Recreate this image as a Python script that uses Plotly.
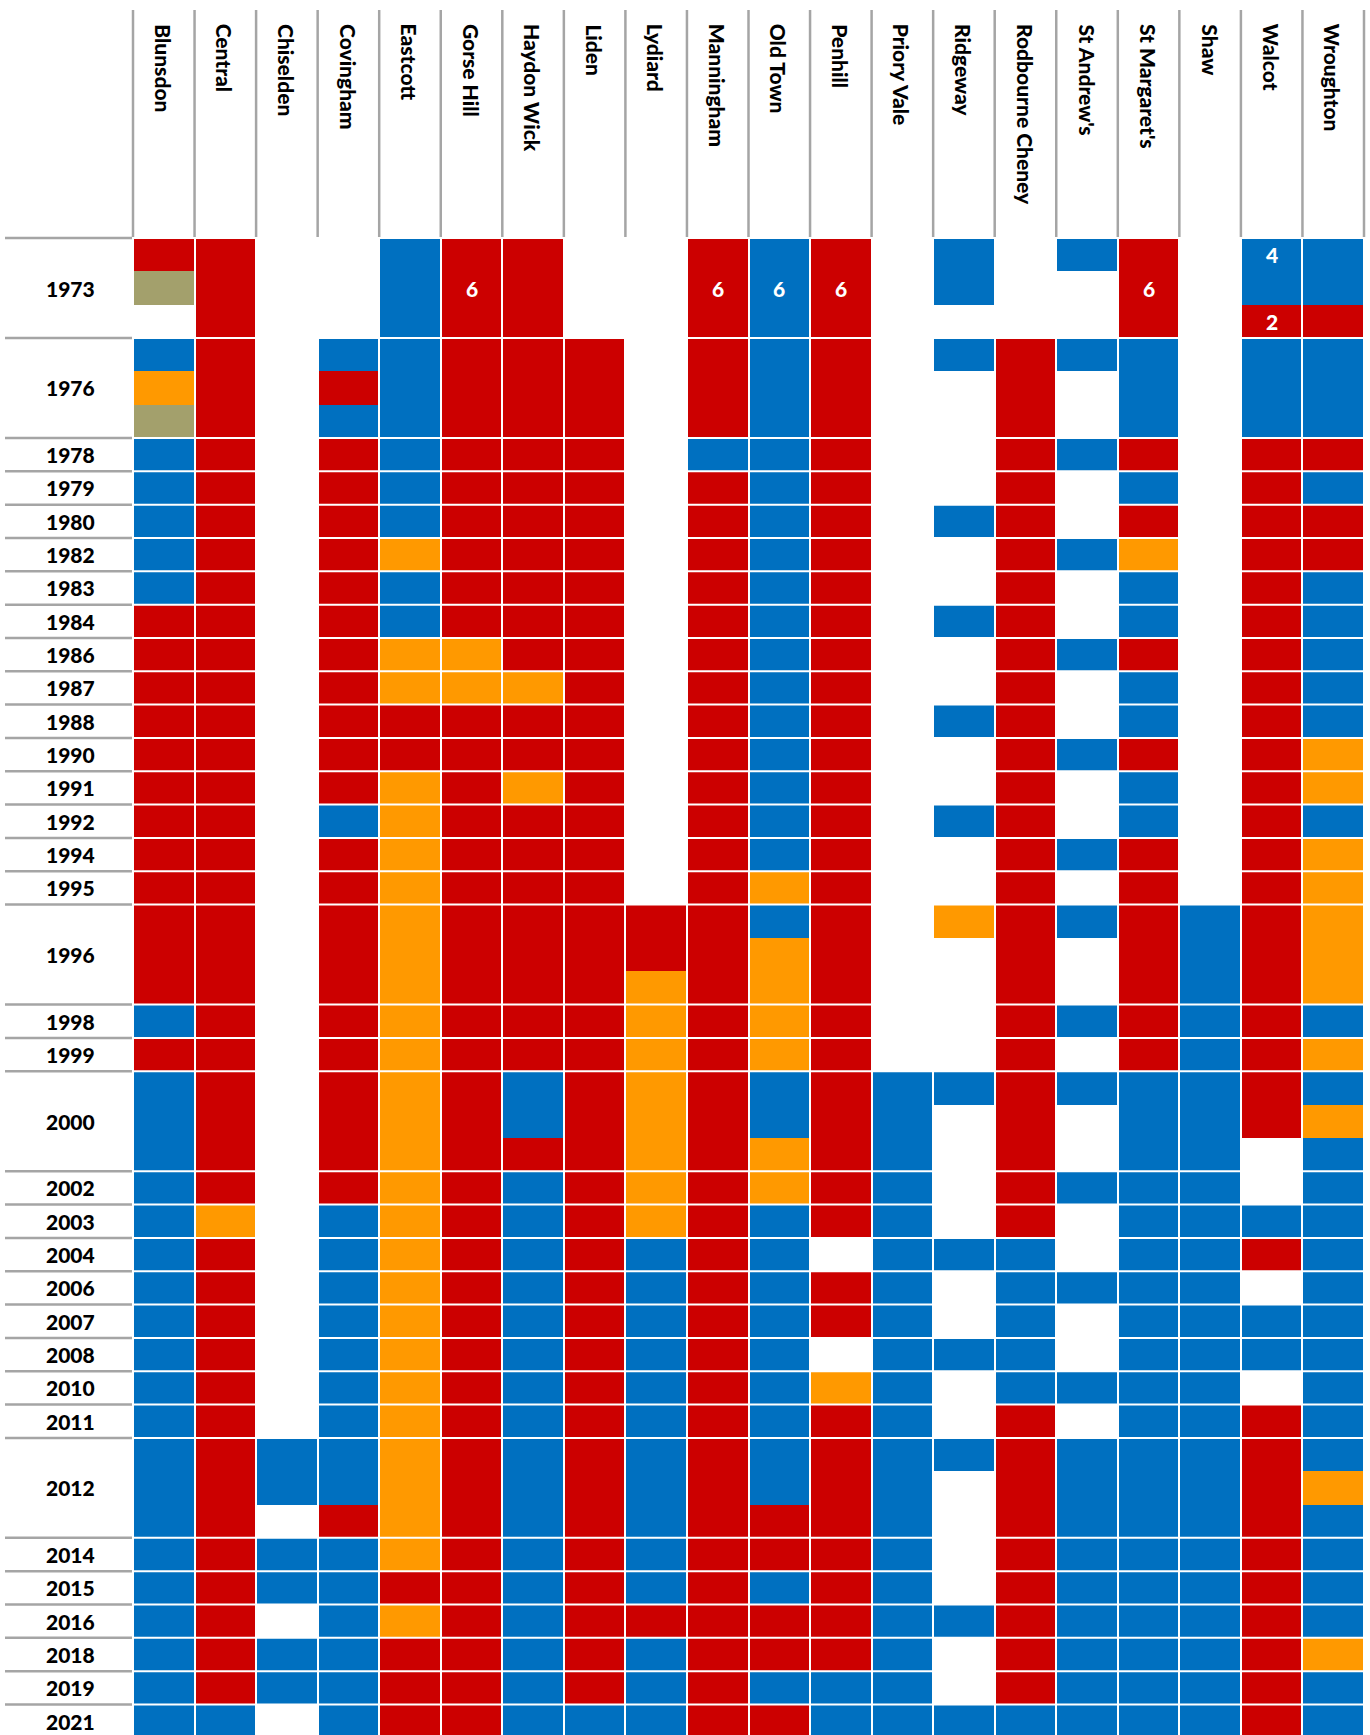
import plotly.graph_objects as go

# Wards, left to right
wards = ["Blunsdon", "Central", "Chiselden", "Covingham", "Eastcott", "Gorse Hill",
         "Haydon Wick", "Liden", "Lydiard", "Manningham", "Old Town", "Penhill",
         "Priory Vale", "Ridgeway", "Rodbourne Cheney", "St Andrew's", "St Margaret's",
         "Shaw", "Walcot", "Wroughton"]

# Election years, top to bottom, and how many seat rows each year contested
years = ["1973", "1976", "1978", "1979", "1980", "1982", "1983", "1984", "1986", "1987",
         "1988", "1990", "1991", "1992", "1994", "1995", "1996", "1998", "1999", "2000",
         "2002", "2003", "2004", "2006", "2007", "2008", "2010", "2011", "2012", "2014",
         "2015", "2016", "2018", "2019", "2021"]
seats_contested = [3, 3, 1, 1, 1, 1, 1, 1, 1, 1,
                   1, 1, 1, 1, 1, 1, 3, 1, 1, 3,
                   1, 1, 1, 1, 1, 1, 1, 1, 3, 1,
                   1, 1, 1, 1, 1]

# Winning party of each seat row, one letter per ward in the order above
# L = Labour, C = Conservative, D = Liberal / Lib Dem, I = Independent, . = no contest
seat_winners = [
    "LL..CLL..LCL.C.CL.CC",  # 1973
    "IL..CLL..LCL.C..L.CC",
    ".L..CLL..LCL....L.LL",
    "CL.CCLLL.LCL.CLCC.CC",  # 1976
    "DL.LCLLL.LCL..L.C.CC",
    "IL.CCLLL.LCL..L.C.CC",
    "CL.LCLLL.CCL..LCL.LL",  # 1978
    "CL.LCLLL.LCL..L.C.LC",  # 1979
    "CL.LCLLL.LCL.CL.L.LL",  # 1980
    "CL.LDLLL.LCL..LCD.LL",  # 1982
    "CL.LCLLL.LCL..L.C.LC",  # 1983
    "LL.LCLLL.LCL.CL.C.LC",  # 1984
    "LL.LDDLL.LCL..LCL.LC",  # 1986
    "LL.LDDDL.LCL..L.C.LC",  # 1987
    "LL.LLLLL.LCL.CL.C.LC",  # 1988
    "LL.LLLLL.LCL..LCL.LD",  # 1990
    "LL.LDLDL.LCL..L.C.LD",  # 1991
    "LL.CDLLL.LCL.CL.C.LC",  # 1992
    "LL.LDLLL.LCL..LCL.LD",  # 1994
    "LL.LDLLL.LDL..L.L.LD",  # 1995
    "LL.LDLLLLLCL.DLCLCLD",  # 1996
    "LL.LDLLLLLDL..L.LCLD",
    "LL.LDLLLDLDL..L.LCLD",
    "CL.LDLLLDLDL..LCLCLC",  # 1998
    "LL.LDLLLDLDL..L.LCLD",  # 1999
    "CL.LDLCLDLCLCCLCCCLC",  # 2000
    "CL.LDLCLDLCLC.L.CCLD",
    "CL.LDLLLDLDLC.L.CC.C",
    "CL.LDLCLDLDLC.LCCC.C",  # 2002
    "CD.CDLCLDLCLC.L.CCCC",  # 2003
    "CL.CDLCLCLC.CCC.CCLC",  # 2004
    "CL.CDLCLCLCLC.CCCC.C",  # 2006
    "CL.CDLCLCLCLC.C.CCCC",  # 2007
    "CL.CDLCLCLC.CCC.CCCC",  # 2008
    "CL.CDLCLCLCDC.CCCC.C",  # 2010
    "CL.CDLCLCLCLC.L.CCLC",  # 2011
    "CLCCDLCLCLCLCCLCCCLC",  # 2012
    "CLCCDLCLCLCLC.LCCCLD",
    "CL.LDLCLCLLLC.LCCCLC",
    "CLCCDLCLCLLLC.LCCCLC",  # 2014
    "CLCCLLCLCLCLC.LCCCLC",  # 2015
    "CL.CDLCLLLLLCCLCCCLC",  # 2016
    "CLCCLLCLCLLLC.LCCCLD",  # 2018
    "CLCCLLCLCLCCC.LCCCLC",  # 2019
    "CC.CLLCCCLLCCCCCCCLC",  # 2021
]

# Seat-count notes written inside cells
note_year = ["1973", "1973", "1973", "1973", "1973", "1973", "1973"]
note_ward = ["Gorse Hill", "Manningham", "Old Town", "Penhill", "St Margaret's", "Walcot", "Walcot"]
note_seat = [1, 1, 1, 1, 1, 0, 2]
note_text = ["6", "6", "6", "6", "6", "4", "2"]

party_code = {"L": 1, "C": 2, "D": 3, "I": 4}
RED, BLUE, ORANGE, OLIVE = "#CC0000", "#0070C0", "#FF9900", "#A3A06C"
GRID_GREY = "#A5A5A5"
FONT = "Lato"

z = [[party_code.get(ch) for ch in row] for row in seat_winners]
row_centres = [i + 0.5 for i in range(len(seat_winners))]

# first seat row of each year block
block_start = []
acc = 0
for n in seats_contested:
    block_start.append(acc)
    acc += n

# page geometry
W, H = 1370, 1735
M_L, M_R, M_T, M_B = 133, 6, 238, 0
plot_w = W - M_L - M_R
plot_h = H - M_T - M_B
ROW_PX = 33.33
y_span = plot_h / ROW_PX


def paper_y(units):
    return 1 - units * ROW_PX / plot_h


def paper_y_px(px_from_top):
    return 1 + (M_T - px_from_top) / plot_h


def paper_x_px(px_from_left):
    return (px_from_left - M_L) / plot_w


fig = go.Figure()
fig.add_trace(go.Heatmap(
    x=list(range(len(wards))),
    y=row_centres,
    z=z,
    zmin=0.5, zmax=4.5,
    colorscale=[[0, RED], [0.25, RED], [0.25, BLUE], [0.5, BLUE],
                [0.5, ORANGE], [0.75, ORANGE], [0.75, OLIVE], [1, OLIVE]],
    showscale=False,
    xgap=2, ygap=0,
    hoverinfo="skip",
))

shapes = []
# column rules in the header
n_cols = len(wards)
for k in range(n_cols + 1):
    xp = k / n_cols
    shapes.append(dict(type="line", xref="paper", yref="paper",
                       x0=xp, x1=xp, y0=paper_y_px(237), y1=paper_y_px(10),
                       line=dict(color=GRID_GREY, width=2.5)))
# rules above each year label, and white gaps between year blocks
for s in block_start:
    yp = paper_y(s)
    shapes.append(dict(type="line", xref="paper", yref="paper",
                       x0=paper_x_px(5), x1=paper_x_px(132), y0=yp, y1=yp,
                       line=dict(color=GRID_GREY, width=2.5)))
    shapes.append(dict(type="line", xref="paper", yref="paper",
                       x0=0, x1=1, y0=yp, y1=yp,
                       line=dict(color="white", width=2)))

annotations = []
for k, name in enumerate(wards):
    annotations.append(dict(text=name, x=k, xref="x", y=paper_y_px(22), yref="paper",
                            xanchor="center", yanchor="top", textangle=90, showarrow=False,
                            font=dict(family=FONT, size=21, color="black", weight=900)))
for yr, s, n in zip(years, block_start, seats_contested):
    annotations.append(dict(text=yr, x=paper_x_px(70), xref="paper", y=s + n / 2, yref="y",
                            xanchor="center", yanchor="middle", showarrow=False,
                            font=dict(family=FONT, size=21, color="black", weight=900)))
for yr, wd, seat, txt in zip(note_year, note_ward, note_seat, note_text):
    s = block_start[years.index(yr)]
    annotations.append(dict(text=txt, x=wards.index(wd), xref="x", y=s + seat + 0.5, yref="y",
                            xanchor="center", yanchor="middle", showarrow=False,
                            font=dict(family=FONT, size=21, color="white", weight=900)))

fig.update_layout(
    width=W, height=H,
    margin=dict(l=M_L, r=M_R, t=M_T, b=M_B, pad=0),
    paper_bgcolor="white", plot_bgcolor="white",
    xaxis=dict(range=[-0.5, n_cols - 0.5], visible=False, fixedrange=True),
    yaxis=dict(range=[y_span, 0], visible=False, fixedrange=True),
    shapes=shapes,
    annotations=annotations,
    showlegend=False,
)

fig.write_html("out.html")
